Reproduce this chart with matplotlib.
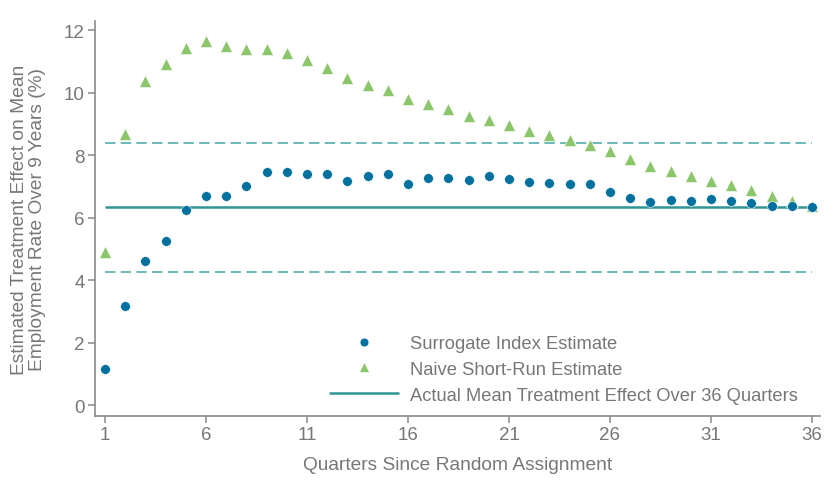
import numpy as np
import matplotlib
matplotlib.use("Agg")
import matplotlib.pyplot as plt

# quarter-by-quarter estimates of the employment effect (%)
quarters = np.arange(1, 37)
surrogate = [1.15, 3.17, 4.61, 5.26, 6.23, 6.69, 6.69, 7.01, 7.46, 7.46,
             7.40, 7.40, 7.16, 7.34, 7.39, 7.09, 7.26, 7.26, 7.19, 7.34,
             7.25, 7.14, 7.11, 7.09, 7.08, 6.81, 6.63, 6.49, 6.55, 6.53,
             6.58, 6.53, 6.47, 6.37, 6.38, 6.33]
naive = [4.91, 8.69, 10.38, 10.92, 11.42, 11.65, 11.48, 11.39, 11.41, 11.26,
         11.04, 10.79, 10.46, 10.25, 10.08, 9.80, 9.62, 9.46, 9.26, 9.12,
         8.96, 8.78, 8.64, 8.48, 8.33, 8.12, 7.89, 7.66, 7.49, 7.33,
         7.18, 7.04, 6.88, 6.70, 6.54, 6.36]
actual_mean = 6.34
ci_low, ci_high = 4.27, 8.40

xticks = [1, 6, 11, 16, 21, 26, 31, 36]
yticks = [0, 2, 4, 6, 8, 10, 12]

blue = "#00709f"
green = "#8cc66a"
teal = "#2e9494"
teal_light = "#6bbab8"
grey = "#777777"

plt.rcParams["font.family"] = ["Liberation Sans", "DejaVu Sans"]
plt.rcParams["lines.scale_dashes"] = False

fig = plt.figure(figsize=(8.39, 4.81), dpi=100)
ax = fig.add_axes([95 / 839, 1 - 417 / 481, 725 / 839, 395 / 481])

ax.hlines([ci_low, ci_high], 1, 36, colors=teal_light, linewidth=1.4,
          linestyles=(0, (7.5, 3.8)), zorder=1)
ax.hlines(actual_mean, 1, 36, colors=teal, linewidth=1.8, zorder=1,
          label="Actual Mean Treatment Effect Over 36 Quarters")
ax.plot(quarters, surrogate, "o", color=blue, markersize=7,
        markeredgecolor="white", markeredgewidth=0.4, zorder=3,
        label="Surrogate Index Estimate")
ax.plot(quarters, naive, "^", color=green, markersize=8.5,
        markeredgecolor="white", markeredgewidth=0.4, zorder=2,
        label="Naive Short-Run Estimate")

ax.set_xlim(0.5, 36.4)
ax.set_ylim(-0.35, 12.29)
ax.set_xticks(xticks)
ax.set_yticks(yticks)

for side in ["top", "right"]:
    ax.spines[side].set_visible(False)
for side in ["left", "bottom"]:
    ax.spines[side].set_color("#8a8a8a")
    ax.spines[side].set_linewidth(1.2)
ax.tick_params(colors="#8a8a8a", labelcolor=grey, labelsize=13.5,
               length=5, width=1.1, direction="out", pad=2.5)

ax.set_xlabel("Quarters Since Random Assignment", color=grey, fontsize=13.8,
              labelpad=9)
ax.set_ylabel("Estimated Treatment Effect on Mean\nEmployment Rate Over 9 Years (%)",
              color=grey, fontsize=13.8, labelpad=13, linespacing=1.02)

handles, labels = ax.get_legend_handles_labels()
order = [1, 2, 0]
leg = ax.legend([handles[i] for i in order], [labels[i] for i in order],
                loc="upper left", bbox_to_anchor=(0.323, 0.205), frameon=False,
                fontsize=13.2, labelcolor=grey, markerscale=0.9,
                handlelength=3.8, handletextpad=0.6, labelspacing=0.48,
                borderpad=0, borderaxespad=0)

fig.savefig("out.png", dpi=100)
